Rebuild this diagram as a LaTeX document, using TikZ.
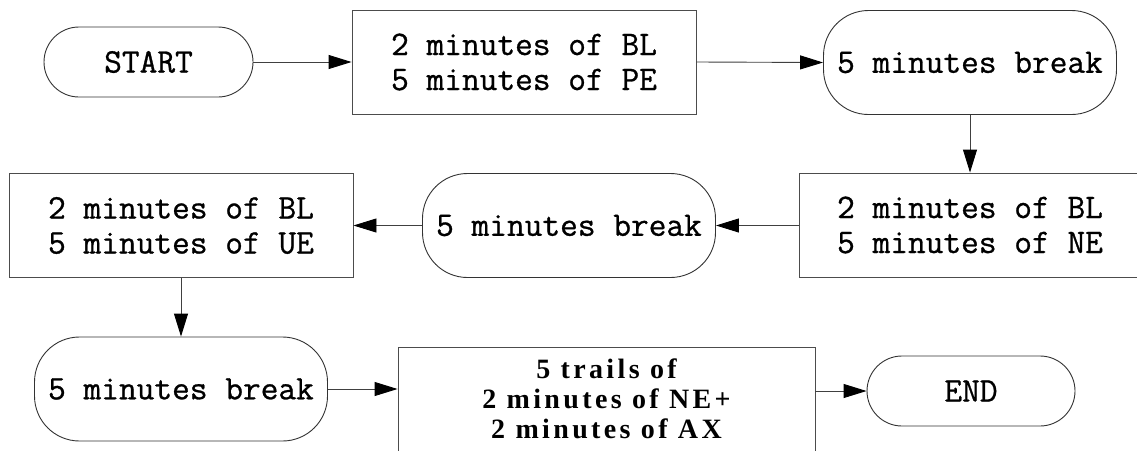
\documentclass[tikz,border=0pt]{standalone}
\usepackage{fontspec}
\newfontfamily\trailfont[LetterSpace=12]{Liberation Serif}
\newfontfamily\monofont[FakeBold=0.8]{Latin Modern Mono}
\usetikzlibrary{arrows.meta}
\begin{document}
\begin{tikzpicture}[x=1pt,y=-1pt,
  base/.style={draw=black!80, line width=0.9pt, align=center, inner sep=0pt,
    font=\monofont\fontsize{34.4}{35}\selectfont},
  stadium/.style={base, rounded corners=35pt, minimum width=209pt, minimum height=70pt},
  pbox/.style={base, draw=black!70, rectangle, minimum width=344pt, minimum height=104pt},
  brk/.style={base, rounded corners=45pt, minimum width=293pt, minimum height=104pt},
  trail/.style={base, draw=black!70, minimum width=417pt, minimum height=104pt,
    font=\trailfont\bfseries\fontsize{28}{30}\selectfont},
  conn/.style={draw=black!75, line width=0.9pt,
    -{Triangle[length=23pt,width=14pt,color=black,fill=black]}},
]
\clip (0,0) rectangle (1137,450);
\fill[white] (0,0) rectangle (1137,450);

\node[stadium] (start) at (148.5,62) {START};
\node[pbox] (b1) at (524,62) {2 minutes of BL\\5 minutes of PE};
\node[brk] (br1) at (970,62.5) {5 minutes break};
\node[pbox, minimum width=342pt] (ne) at (970,225) {2 minutes of BL\\5 minutes of NE};
\node[brk] (br2) at (569,225.5) {5 minutes break};
\node[pbox] (ue) at (181,225.5) {2 minutes of BL\\5 minutes of UE};
\node[brk] (br3) at (181,389) {5 minutes break};
\node[trail] (tr) at (606.5,399) {5 trails of\\2 minutes of NE+\\2 minutes of AX};
\node[stadium, minimum width=208pt] (end) at (971,391) {END};

\draw[conn] (start.east) -- (b1.west);
\draw[conn] (b1.east) -- (br1.west);
\draw[conn] (br1.south) -- (br1.south |- ne.north);
\draw[conn] (ne.west |- br2.east) -- (br2.east);
\draw[conn] (br2.west) -- (ue.east |- br2.west);
\draw[conn] (ue.south) -- (br3.north);
\draw[conn] (br3.east) -- (br3.east -| tr.west);
\draw[conn] (end.west -| tr.east) -- (end.west);
\end{tikzpicture}
\end{document}
